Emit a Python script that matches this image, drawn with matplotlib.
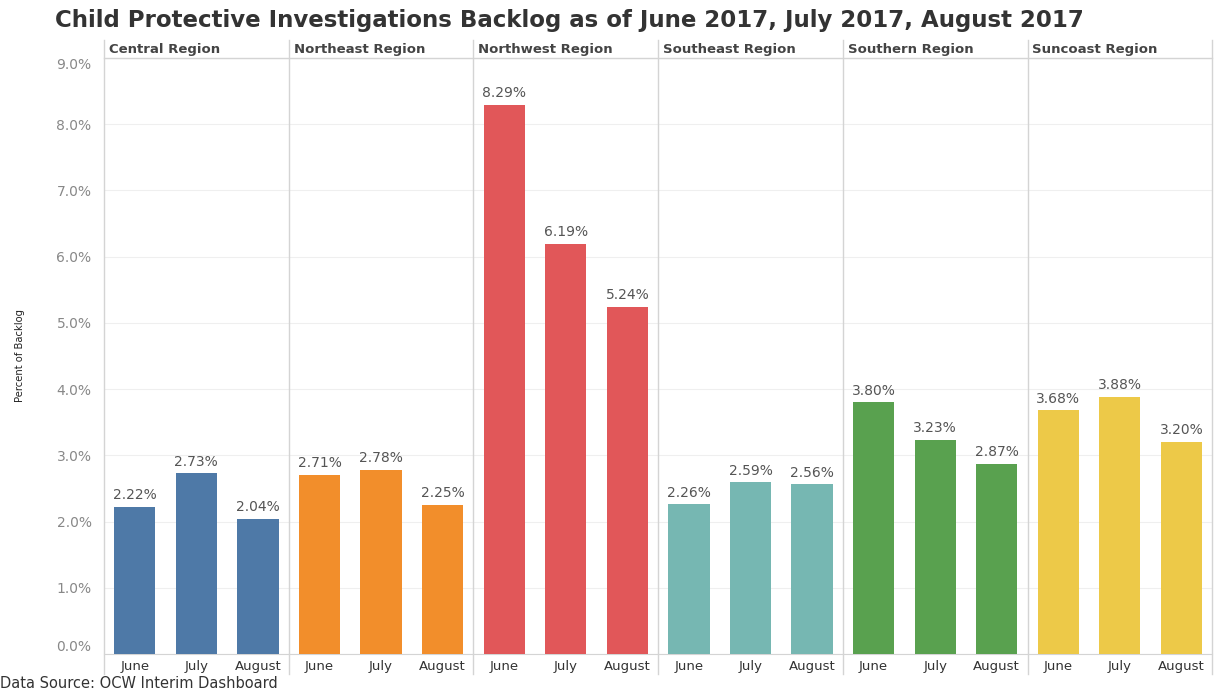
import matplotlib
matplotlib.use("Agg")
import matplotlib.pyplot as plt
from matplotlib.lines import Line2D

regions = ["Central Region", "Northeast Region", "Northwest Region",
           "Southeast Region", "Southern Region", "Suncoast Region"]
months = ["June", "July", "August"]
central = [2.22, 2.73, 2.04]
northeast = [2.71, 2.78, 2.25]
northwest = [8.29, 6.19, 5.24]
southeast = [2.26, 2.59, 2.56]
southern = [3.80, 3.23, 2.87]
suncoast = [3.68, 3.88, 3.20]
values = [central, northeast, northwest, southeast, southern, suncoast]
colors = ["#4E79A7", "#F28E2B", "#E15759", "#76B7B2", "#59A14F", "#EDC948"]
yticks = [0, 1, 2, 3, 4, 5, 6, 7, 8, 9]

W, H = 1214, 692
fig = plt.figure(figsize=(W / 100, H / 100), dpi=100)
plt.rcParams['font.family'] = ['DejaVu Sans']

x0, pw = 104, 184.7
ybot, ytop = 654, 58
ymax = 9.0
grid_col = "#efefef"
div_col = "#d4d4d4"

axes = []
for i, (reg, vals, col) in enumerate(zip(regions, values, colors)):
    ax = fig.add_axes([(x0 + i * pw) / W, (H - ybot) / H, pw / W, (ybot - ytop) / H])
    axes.append(ax)
    xs = range(len(months))
    ax.bar(xs, vals, width=0.67, color=col, zorder=3)
    for x, v in zip(xs, vals):
        ax.text(x, v + 0.07, f"{v:.2f}%", ha="center", va="bottom",
                fontsize=10, color="#555555", zorder=4)
    ax.set_xlim(-0.5, 2.5)
    ax.set_ylim(0, ymax)
    ax.set_yticks(yticks)
    for t in yticks:
        ax.axhline(t, color=grid_col, lw=0.8, zorder=1)
    ax.set_xticks(list(xs))
    ax.set_xticklabels(months, fontsize=9.5, color="#333333")
    ax.tick_params(axis="x", length=0, pad=4)
    for s in ["top", "right"]:
        ax.spines[s].set_visible(False)
    ax.spines["bottom"].set_color(div_col)
    ax.spines["left"].set_visible(False)
    if i == 0:
        labs = ax.set_yticklabels([f"{t:.1f}%" for t in yticks], fontsize=10, color="#888888")
        labs[0].set_va("bottom")
        labs[-1].set_va("top")
        ax.tick_params(axis="y", length=0, pad=9)
    else:
        ax.tick_params(axis="y", length=0, labelleft=False)
    ax.set_facecolor("none")
    fig.text((x0 + i * pw + 5) / W, (H - 49) / H, reg, fontsize=9.5, fontweight="bold",
             color="#444444", va="center", ha="left")

for i in range(len(regions) + 1):
    xp = (x0 + i * pw) / W
    fig.add_artist(Line2D([xp, xp], [(H - 674) / H, (H - 40) / H],
                          color=div_col, lw=1.0, transform=fig.transFigure))
fig.add_artist(Line2D([x0 / W, (x0 + 6 * pw) / W], [(H - ytop) / H, (H - ytop) / H],
                      color=div_col, lw=1.0, transform=fig.transFigure))

fig.text(55 / W, (H - 20) / H, "Child Protective Investigations Backlog as of June 2017, July 2017, August 2017",
         fontsize=16.5, fontweight="bold", color="#333333", va="center", ha="left")
fig.text(20 / W, (H - 355) / H, "Percent of Backlog", rotation=90, fontsize=8,
         color="#222222", va="center", ha="center", fontstretch="condensed")
fig.text(0, (H - 684) / H, "Data Source: OCW Interim Dashboard", fontsize=10.5,
         color="#333333", va="center", ha="left")

fig.savefig("out.png", dpi=100)
